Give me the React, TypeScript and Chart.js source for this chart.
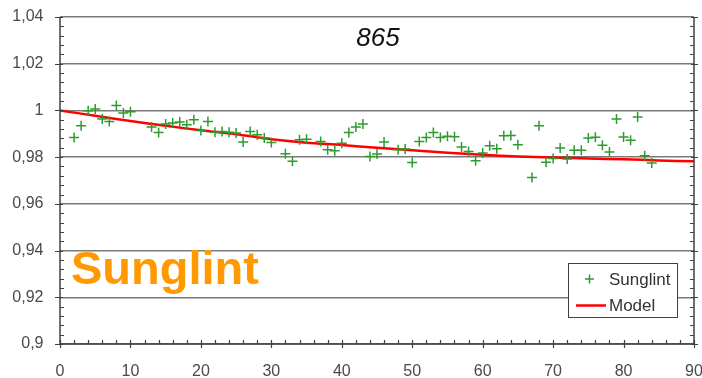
import React, { useEffect, useRef } from 'react';
import { Chart, registerables } from 'chart.js';

Chart.register(...registerables);

const sunglintX = [2, 3, 4, 5, 6, 7, 8, 9, 10, 13, 14, 15, 16, 17, 18, 19, 20, 21, 22, 23, 24, 25, 26, 27, 28, 29, 30, 32, 33, 34, 35, 37, 38, 39, 40, 41, 42, 43, 44, 45, 46, 48, 49, 50, 51, 52, 53, 54, 55, 56, 57, 58, 59, 60, 61, 62, 63, 64, 65, 67, 68, 69, 70, 71, 72, 73, 74, 75, 76, 77, 78, 79, 80, 81, 82, 83, 84];
const sunglintY = [0.9884, 0.9934, 0.9999, 1.0006, 0.9963, 0.9953, 1.0021, 0.9989, 0.9994, 0.9929, 0.9906, 0.9942, 0.9946, 0.995, 0.9939, 0.996, 0.9914, 0.9953, 0.9907, 0.991, 0.9907, 0.9903, 0.9865, 0.991, 0.9896, 0.9882, 0.9863, 0.9814, 0.9782, 0.9875, 0.9877, 0.9867, 0.9832, 0.9827, 0.986, 0.9906, 0.9929, 0.9942, 0.9803, 0.9813, 0.9865, 0.9832, 0.9835, 0.9777, 0.9867, 0.9884, 0.9906, 0.9884, 0.9889, 0.9887, 0.9843, 0.9824, 0.9785, 0.9818, 0.9849, 0.9836, 0.9892, 0.9893, 0.9853, 0.9713, 0.9934, 0.9778, 0.9794, 0.9839, 0.9792, 0.9829, 0.9829, 0.9882, 0.9885, 0.9851, 0.9822, 0.9963, 0.9886, 0.9872, 0.9972, 0.9806, 0.9775];

const modelX = [0, 5, 10, 15, 20, 25, 30, 35, 40, 45, 50, 55, 60, 65, 70, 75, 80, 85, 90];
const modelY = [1.0, 0.9977, 0.9955, 0.9934, 0.9915, 0.9898, 0.9877, 0.9862, 0.9852, 0.984, 0.9829, 0.9819, 0.981, 0.9803, 0.9798, 0.9794, 0.9791, 0.9786, 0.9782];

const chartTitle = '865';
const overlayLabel = 'Sunglint';
const seriesNames = ['Sunglint', 'Model'];

const X_MIN = 0, X_MAX = 90, X_STEP = 10, X_MINOR = 2;
const Y_MIN = 0.9, Y_MAX = 1.04, Y_STEP = 0.02, Y_MINOR = 0.004;

const FONT = '"Liberation Sans", Arial, sans-serif';

const fmtY = (v: number) => String(Math.round(v * 100) / 100).replace('.', ',');

const decorPlugin = {
  id: 'decor',
  afterDatasetsDraw(chart: any) {
    const ctx = chart.ctx as CanvasRenderingContext2D;
    const xs = chart.scales.x;
    const ys = chart.scales.y;
    const { left, right, top, bottom } = chart.chartArea;
    ctx.save();
    ctx.strokeStyle = '#404040';
    ctx.lineWidth = 1.5;
    ctx.beginPath();
    ctx.moveTo(left, top); ctx.lineTo(left, bottom);
    ctx.moveTo(right, top); ctx.lineTo(right, bottom);
    ctx.moveTo(left, bottom); ctx.lineTo(right, bottom);
    ctx.stroke();
    ctx.lineWidth = 1.2;
    ctx.beginPath();
    const nY = Math.round((Y_MAX - Y_MIN) / Y_MINOR);
    for (let i = 0; i <= nY; i++) {
      const v = Y_MIN + i * Y_MINOR;
      const py = Math.round(ys.getPixelForValue(v)) + 0.5;
      const major = i % 5 === 0;
      if (major) {
        ctx.moveTo(left - 5, py); ctx.lineTo(left + 3, py);
        ctx.moveTo(right - 3, py); ctx.lineTo(right + 4, py);
      } else {
        ctx.moveTo(left, py); ctx.lineTo(left + 4, py);
        ctx.moveTo(right - 4, py); ctx.lineTo(right, py);
      }
    }
    const nX = Math.round((X_MAX - X_MIN) / X_MINOR);
    for (let i = 0; i <= nX; i++) {
      const v = X_MIN + i * X_MINOR;
      const px = Math.round(xs.getPixelForValue(v)) + 0.5;
      const major = (v % X_STEP) === 0;
      if (major) {
        ctx.moveTo(px, bottom - 4); ctx.lineTo(px, bottom + 4);
      } else {
        ctx.moveTo(px, bottom - 4); ctx.lineTo(px, bottom);
      }
    }
    ctx.stroke();
    ctx.restore();
  },
  afterDraw(chart: any) {
    const ctx = chart.ctx as CanvasRenderingContext2D;
    const { left, top } = chart.chartArea;
    ctx.save();
    ctx.fillStyle = '#111';
    ctx.font = `italic 26px ${FONT}`;
    ctx.textAlign = 'center';
    ctx.textBaseline = 'middle';
    ctx.fillText(chartTitle, 378, top + 22);
    ctx.fillStyle = '#ff9900';
    ctx.font = `bold 47px ${FONT}`;
    ctx.textAlign = 'left';
    ctx.textBaseline = 'alphabetic';
    ctx.fillText(overlayLabel, left + 11, 284);
    const bx = 568, by = 263, bw = 109, bh = 54;
    ctx.fillStyle = '#ffffff';
    ctx.fillRect(bx, by, bw, bh);
    ctx.strokeStyle = '#404040';
    ctx.lineWidth = 1;
    ctx.strokeRect(bx + 0.5, by + 0.5, bw, bh);
    ctx.strokeStyle = '#2e9b2e';
    ctx.lineWidth = 1.5;
    ctx.beginPath();
    ctx.moveTo(585, 279); ctx.lineTo(594, 279);
    ctx.moveTo(589.5, 274.5); ctx.lineTo(589.5, 283.5);
    ctx.stroke();
    ctx.strokeStyle = '#ff0000';
    ctx.lineWidth = 2.5;
    ctx.beginPath();
    ctx.moveTo(576, 305.5); ctx.lineTo(606, 305.5);
    ctx.stroke();
    ctx.fillStyle = '#333';
    ctx.font = `17px ${FONT}`;
    ctx.textBaseline = 'middle';
    ctx.fillText(seriesNames[0], 609, 280);
    ctx.fillText(seriesNames[1], 609, 306);
    ctx.restore();
  },
};

export default function App() {
  const ref = useRef<HTMLCanvasElement | null>(null);
  useEffect(() => {
    if (!ref.current) return;
    const chart = new Chart(ref.current, {
      type: 'scatter',
      data: {
        datasets: [
          {
            label: seriesNames[1],
            data: modelX.map((x, i) => ({ x, y: modelY[i] })),
            showLine: true,
            borderColor: '#ff0000',
            backgroundColor: '#ff0000',
            borderWidth: 2.5,
            pointRadius: 0,
            tension: 0.3,
            order: 2,
          },
          {
            label: seriesNames[0],
            data: sunglintX.map((x, i) => ({ x, y: sunglintY[i] })),
            showLine: false,
            pointStyle: 'cross',
            pointRadius: 5,
            borderColor: '#2e9b2e',
            backgroundColor: '#2e9b2e',
            pointBorderWidth: 1.5,
            order: 1,
          },
        ],
      },
      options: {
        animation: false,
        responsive: false,
        maintainAspectRatio: false,
        layout: { padding: { top: 17, right: 8, left: 0, bottom: 0 } },
        plugins: {
          legend: { display: false },
          tooltip: { enabled: false },
          title: { display: false },
        },
        scales: {
          x: {
            type: 'linear',
            min: X_MIN,
            max: X_MAX,
            grid: { display: false, drawTicks: false },
            border: { display: false },
            ticks: {
              stepSize: X_STEP,
              padding: 17.5,
              color: '#4a4a4a',
              font: { family: FONT, size: 16 },
              maxRotation: 0,
            },
            afterFit: (s: any) => {
              s.height = 34;
              s.paddingLeft = 0; s.paddingRight = 0; s.paddingTop = 0; s.paddingBottom = 0;
            },
          },
          y: {
            type: 'linear',
            min: Y_MIN,
            max: Y_MAX,
            grid: { color: '#7a7a7a', lineWidth: 1.5, drawTicks: false },
            border: { display: false },
            ticks: {
              stepSize: Y_STEP,
              padding: 16.5,
              color: '#4a4a4a',
              font: { family: FONT, size: 16 },
              callback: (v: any) => fmtY(Number(v)),
            },
            afterFit: (s: any) => {
              s.width = 60;
              s.paddingLeft = 0; s.paddingRight = 0; s.paddingTop = 0; s.paddingBottom = 0;
            },
          },
        },
      },
      plugins: [decorPlugin],
    });
    return () => chart.destroy();
  }, []);
  return (
    <div style={{ position: 'absolute', left: 0, top: 0, width: 702, height: 378, background: '#fff' }}>
      <canvas ref={ref} width={702} height={378} style={{ display: 'block' }} />
    </div>
  );
}
